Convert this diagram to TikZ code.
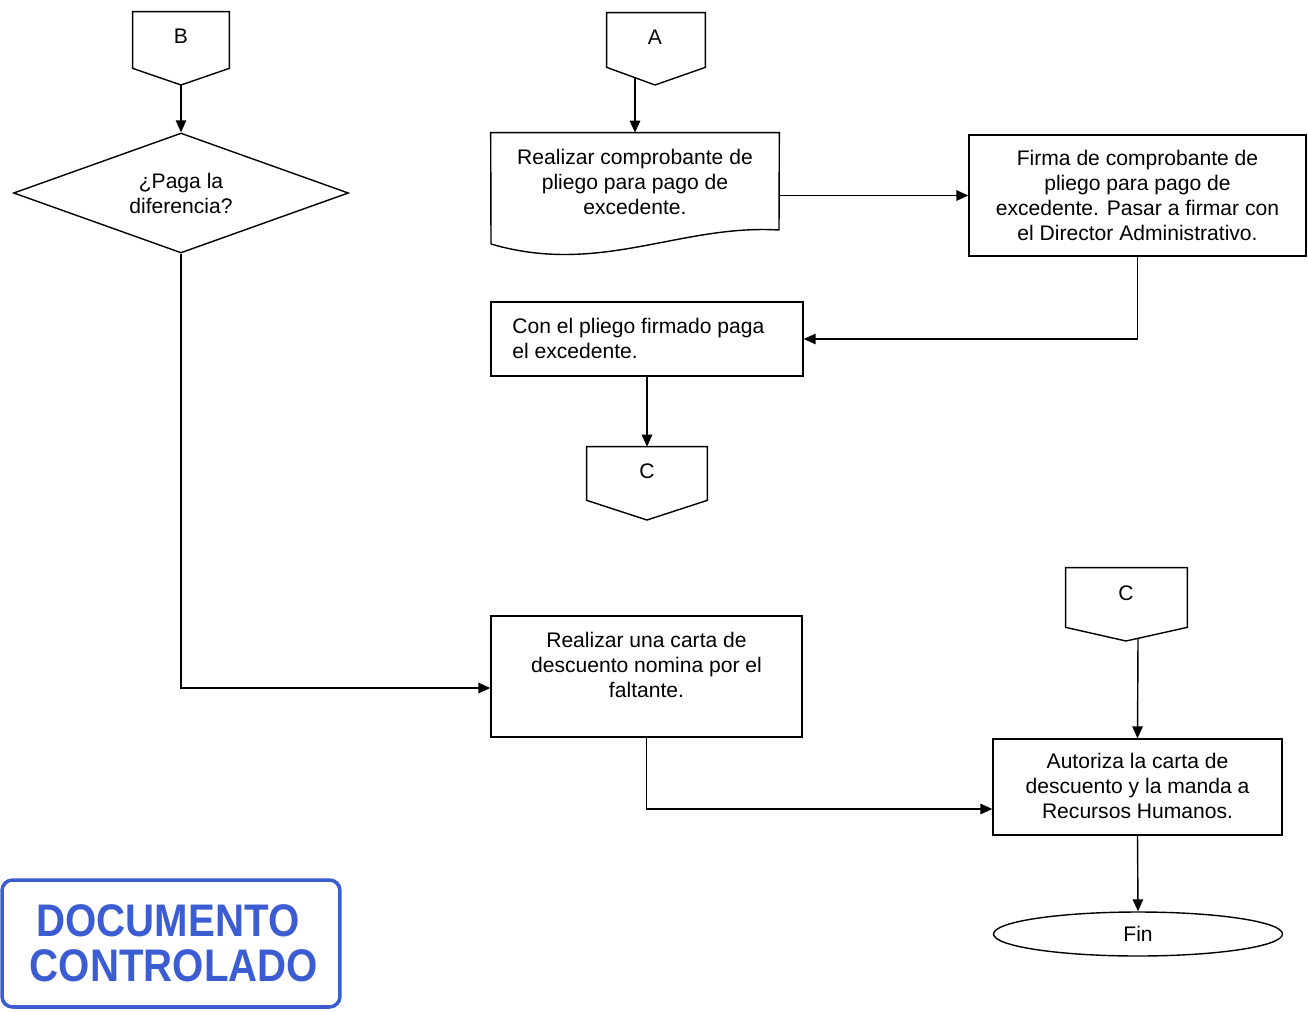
\documentclass[tikz,border=0pt]{standalone}
\usepackage{fontspec}
\setmainfont{Liberation Sans}
\usetikzlibrary{shapes.geometric,arrows.meta}
\definecolor{stampblue}{RGB}{60,92,210}
\tikzset{
  box/.style={draw, line width=0.8pt, rectangle, inner sep=0pt, align=center},
  ghost/.style={rectangle, inner sep=0pt},
  outline/.style={draw, line width=0.8pt, line join=miter},
  arr/.style={line width=0.8pt, -{Triangle[length=2.4mm,width=2.1mm]}},
  txt/.style={font=\fontsize{12}{14.2}\selectfont, align=center, inner sep=0pt},
}
\begin{document}
\begin{tikzpicture}[x=0.02cm,y=-0.02cm]
\useasboundingbox (0,0) rectangle (1308,1011);

% off-page connector B
\node[ghost, minimum width=1.92cm, minimum height=1.12cm] (B) at (181,40) {};
\node[txt] (Btxt) at (181,36) {B};
\draw[outline] (B.south west) -- (B.north west) -- (B.north east) -- (B.south east) -- (181,85) -- cycle;
\coordinate (Bbot) at (181,85);

% off-page connector A
\node[ghost, minimum width=1.96cm, minimum height=1.08cm] (A) at (656,40) {};
\node[txt] (Atxt) at (655,37) {A};
\draw[outline] (A.south west) -- (A.north west) -- (A.north east) -- (A.south east) -- (655,85) -- cycle;
\coordinate (Abot) at (635,78);

% decision
\node[diamond, draw, line width=0.8pt, inner sep=0pt, aspect=2.8,
      minimum width=6.7cm, minimum height=2.4cm] (dia) at (181,193) {};
\node[txt] (diatxt) at (181,193) {¿Paga la\\diferencia?};

% document shape
\node[ghost, minimum width=5.76cm, minimum height=2.24cm] (doc) at (635,189) {};
\node[txt] (doctxt) at (635,182) {Realizar comprobante de\\pliego para pago de\\excedente.};
\draw[outline] (491,244) -- (doc.north west) -- (doc.north east) -- (779,230)
   .. controls (680,224) and (600,276) .. (491,244);

% firma
\node[box, minimum width=6.74cm, minimum height=2.42cm] (firma) at (1137.5,195.5) {};
\node[txt] (firmatxt) at (1137.5,195.5) {Firma de comprobante de\\pliego para pago de\\excedente. Pasar a firmar con\\el Director Administrativo.};

% con el pliego
\node[box, minimum width=6.24cm, minimum height=1.48cm] (con) at (647,339) {};
\node[txt, align=left, anchor=west] (contxt) at (512,338) {Con el pliego firmado paga\\el excedente.};

% off-page connector C (1)
\node[ghost, minimum width=2.4cm, minimum height=1.06cm] (C1) at (647,473.5) {};
\node[txt] (C1txt) at (647,471) {C};
\draw[outline] (C1.south west) -- (C1.north west) -- (C1.north east) -- (C1.south east) -- (647,520) -- cycle;

% carta
\node[box, minimum width=6.22cm, minimum height=2.42cm] (carta) at (646.5,676.5) {};
\node[txt] (cartatxt) at (646.5,665) {Realizar una carta de\\descuento nomina por el\\faltante.};

% off-page connector C (2)
\node[ghost, minimum width=2.42cm, minimum height=1.18cm] (C2) at (1126.5,597.5) {};
\node[txt] (C2txt) at (1126,593) {C};
\draw[outline] (C2.south west) -- (C2.north west) -- (C2.north east) -- (C2.south east) -- (1126,641) -- cycle;
\coordinate (C2bot) at (1138,638.5);

% autoriza
\node[box, minimum width=5.78cm, minimum height=1.92cm] (aut) at (1137.5,787) {};
\node[txt] (auttxt) at (1137.5,786) {Autoriza la carta de\\descuento y la manda a\\Recursos Humanos.};

% fin
\node[ellipse, draw, line width=0.8pt, inner sep=0pt, minimum width=5.78cm, minimum height=0.88cm] (fin) at (1138,934) {};
\node[txt] (fintxt) at (1138,934) {Fin};

% connectors
\draw[arr] (Bbot) -- (dia.north);
\draw[arr] (Abot) -- (doc.north);
\draw[arr] (doc.east |- firma.west) -- (firma.west);
\draw[arr] (firma.south) |- (con.east);
\draw[arr] (con.south) -- (C1.north);
\draw[arr] (dia.south) |- ([yshift=-0.23cm]carta.west);
\draw[arr] (carta.south) |- ([yshift=-0.44cm]aut.west);
\draw[arr] (C2bot) -- (aut.north);
\draw[arr] (aut.south) -- (fin.north);

% stamp
\node[draw=stampblue, line width=2pt, rounded corners=6pt, minimum width=6.76cm, minimum height=2.54cm, inner sep=0pt] (stamp) at (171,943.5) {};
\node[text=stampblue, font=\bfseries\fontsize{26}{30}\selectfont, xscale=0.88, inner sep=0pt] (stamp1) at (168,921) {DOCUMENTO};
\node[text=stampblue, font=\bfseries\fontsize{26}{30}\selectfont, xscale=0.88, inner sep=0pt] (stamp2) at (174,966) {CONTROLADO};
\end{tikzpicture}
\end{document}
